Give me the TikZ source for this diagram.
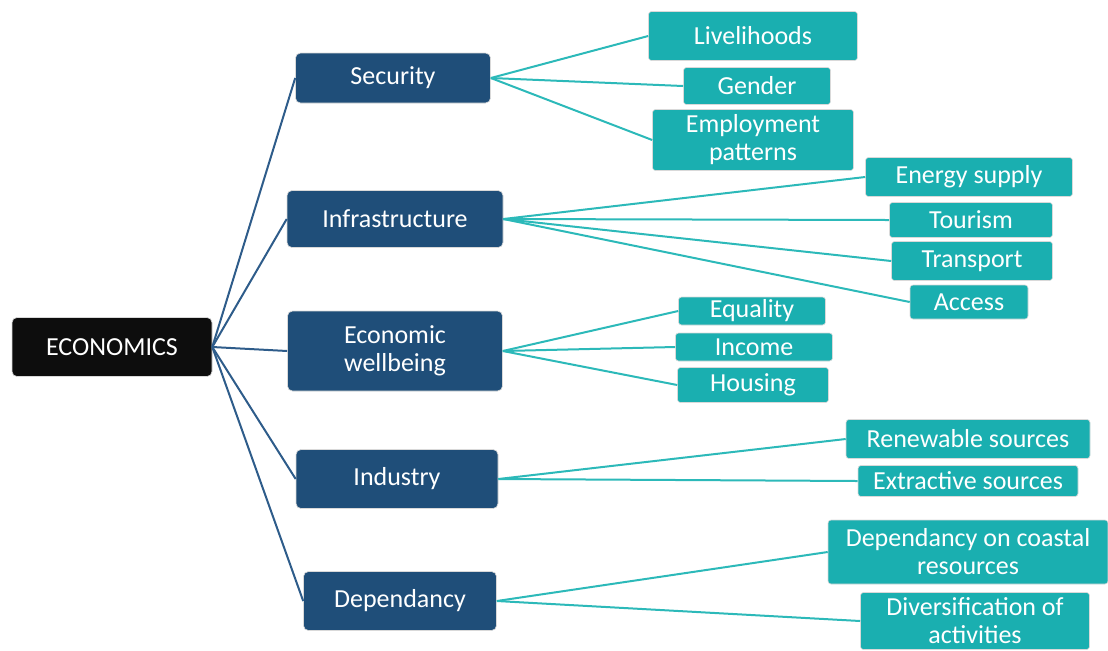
\documentclass[tikz,border=0pt]{standalone}
\usepackage{fontspec}
\setmainfont{Carlito}
\usetikzlibrary{positioning}
\definecolor{topblack}{HTML}{0D0D0D}
\definecolor{branchblue}{HTML}{1F4E79}
\definecolor{leafteal}{HTML}{1AAFB0}
\definecolor{branchline}{HTML}{2E5C8A}
\definecolor{leafline}{HTML}{2CB9B9}
\tikzset{main node/.style={rectangle, rounded corners=2.5pt, fill=topblack, text=white, draw=white!85!black, line width=0.3pt,
    inner sep=0pt, align=center, font=\fontsize{13}{14}\selectfont},
  branch node/.style={main node, fill=branchblue},
  leaf node/.style={main node, rounded corners=1.5pt, fill=leafteal},
  wh/.style 2 args={minimum width=#1*0.5pt, minimum height=#2*0.5pt},
  branch link/.style={draw=branchline, line width=1pt},
  leaf link/.style={draw=leafline, line width=1pt},
}

\begin{document}
\begin{tikzpicture}[x=0.5pt, y=-0.5pt]
        \useasboundingbox (0,0) rectangle (1108,650);
        % Root and branches
        \node[main node, wh={200}{59}] (econ) at (112,347) {ECONOMICS};
        \node[branch node, wh={195}{50}] (sec) at (393,78) {Security};
        \node[branch node, wh={216}{57}] (infra) at (395,219) {Infrastructure};
        \node[branch node, wh={215}{80}] (well) at (395,351) {Economic\\wellbeing};
        \node[branch node, wh={202}{59}] (ind) at (397,479) {Industry};
        \node[branch node, wh={193}{59}] (dep) at (400,601) {Dependancy};
        % Leaves
        \node[leaf node, wh={209}{49}] (live) at (753,36) {Livelihoods};
        \node[leaf node, wh={147}{37}] (gend) at (757,86) {Gender};
        \node[leaf node, wh={201}{61}] (empl) at (753,140) {Employment\\patterns};
        \node[leaf node, wh={207}{39}] (energy) at (969,177) {Energy supply};
        \node[leaf node, wh={163}{35}] (tour) at (971,220) {Tourism};
        \node[leaf node, wh={161}{39}] (trans) at (972,261) {Transport};
        \node[leaf node, wh={118}{34}] (acc) at (969,302) {Access};
        \node[leaf node, wh={147}{28}] (equal) at (752,311) {Equality};
        \node[leaf node, wh={157}{28}] (inc) at (754,347) {Income};
        \node[leaf node, wh={151}{35}] (hous) at (753,385) {Housing};
        \node[leaf node, wh={244}{39}] (renew) at (968,439) {Renewable sources};
        \node[leaf node, wh={220}{31}] (extr) at (968,481) {Extractive sources};
        \node[leaf node, wh={280}{64}] (coast) at (968,552) {Dependancy on coastal\\resources};
        \node[leaf node, wh={229}{57}] (divers) at (975,621) {Diversification of\\activities};
        % Links
        \path[branch link]
        (econ.east) edge (sec.west)
        (econ.east) edge (infra.west)
        (econ.east) edge (well.west)
        (econ.east) edge (ind.west)
        (econ.east) edge (dep.west);
        \path[leaf link]
        (sec.east) edge (live.west)
        (sec.east) edge (gend.west)
        (sec.east) edge (empl.west)
        (infra.east) edge (energy.west)
        (infra.east) edge (tour.west)
        (infra.east) edge (trans.west)
        (infra.east) edge (acc.west)
        (well.east) edge (equal.west)
        (well.east) edge (inc.west)
        (well.east) edge (hous.west)
        (ind.east) edge (renew.west)
        (ind.east) edge (extr.west)
        (dep.east) edge (coast.west)
        (dep.east) edge (divers.west);
    \end{tikzpicture}
\end{document}
